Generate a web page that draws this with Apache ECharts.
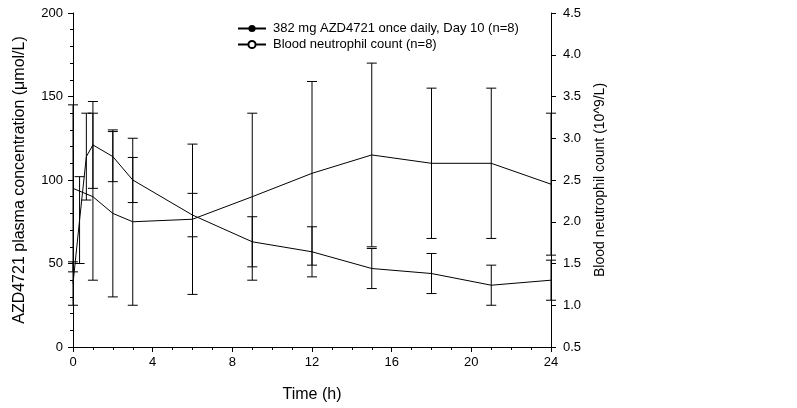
<!DOCTYPE html>
<html>
<head>
<meta charset="utf-8">
<script src="https://cdn.jsdelivr.net/npm/echarts@6/dist/echarts.min.js"></script>
<style>
html,body{margin:0;padding:0;background:#fff;}
#chart{width:797px;height:408px;}
</style>
</head>
<body>
<div id="chart"></div>
<script>
// ---- data ----
var concName = '382 mg AZD4721 once daily, Day 10 (n=8)';
var neutName = 'Blood neutrophil count (n=8)';
var concTimes = [0, 0.33, 0.67, 1, 2, 3, 6, 9, 12, 15, 18, 21, 24];
var concMean  = [38, 76, 114, 121, 114, 100, 79, 63, 57, 47, 44, 37, 40];
var concSD    = [13, 26, 26, 26, 15, 13.5, 13, 15, 15, 12, 12, 12, 12];
var neutTimes = [0, 1, 2, 3, 6, 9, 12, 15, 18, 21, 24];
var neutMean  = [2.4, 2.3, 2.1, 2.0, 2.03, 2.3, 2.58, 2.8, 2.7, 2.7, 2.45];
var neutSD    = [1.0, 1.0, 1.0, 1.0, 0.9, 1.0, 1.1, 1.1, 0.9, 0.9, 0.85];
var xTicks = [0, 4, 8, 12, 16, 20, 24];

var FONT = 'Liberation Sans, Arial, sans-serif';

function pairs(t, v) { return t.map(function (x, i) { return [x, v[i]]; }); }
function errData(t, m, s) { return t.map(function (x, i) { return [x, m[i] - s[i], m[i] + s[i]]; }); }

function errRender(params, api) {
  var x = api.value(0);
  var lo = api.coord([x, api.value(1)]);
  var hi = api.coord([x, api.value(2)]);
  var w = 5;
  var st = { stroke: '#000', lineWidth: 1 };
  return {
    type: 'group',
    children: [
      { type: 'line', shape: { x1: lo[0], y1: lo[1], x2: hi[0], y2: hi[1] }, style: st },
      { type: 'line', shape: { x1: lo[0] - w, y1: lo[1], x2: lo[0] + w, y2: lo[1] }, style: st },
      { type: 'line', shape: { x1: hi[0] - w, y1: hi[1], x2: hi[0] + w, y2: hi[1] }, style: st }
    ]
  };
}

var chart = echarts.init(document.getElementById('chart'), null, { renderer: 'canvas' });
var axisCommon = {
  axisLine: { show: true, lineStyle: { color: '#000', width: 1 } },
  splitLine: { show: false },
  axisLabel: { color: '#000', fontSize: 13, fontFamily: FONT },
  nameTextStyle: { color: '#000', fontSize: 16, fontFamily: FONT }
};
chart.setOption({
  animation: false,
  backgroundColor: '#fff',
  textStyle: { fontFamily: FONT },
  grid: { left: 73, right: 246, top: 13, bottom: 61, containLabel: false },
  legend: {
    orient: 'vertical', left: 237, top: 22, padding: 0,
    itemWidth: 28, itemHeight: 9, itemGap: 3,
    textStyle: { color: '#000', fontSize: 13, fontFamily: FONT, padding: [0, 0, 0, 2] },
    data: [concName, neutName]
  },
  xAxis: Object.assign({}, axisCommon, {
    type: 'value', min: 0, max: 24, interval: 4,
    name: 'Time (h)', nameLocation: 'middle', nameGap: 40,
    axisTick: { show: true, inside: false, length: 5, lineStyle: { color: '#000' } },
    minorTick: { show: true, splitNumber: 4, length: 3, lineStyle: { color: '#000' } },
    axisLabel: Object.assign({}, axisCommon.axisLabel, { margin: 9,
      formatter: function (v) { return xTicks.indexOf(v) >= 0 ? String(v) : ''; } })
  }),
  yAxis: [
    Object.assign({}, axisCommon, {
      type: 'value', position: 'left', min: 0, max: 200, interval: 50,
      name: 'AZD4721 plasma concentration (\u03bcmol/L)', nameLocation: 'middle', nameGap: 45, nameRotate: 90,
      axisTick: { show: true, inside: false, length: 5, lineStyle: { color: '#000' } },
      minorTick: { show: true, splitNumber: 5, length: 3, lineStyle: { color: '#000' } },
      axisLabel: Object.assign({}, axisCommon.axisLabel, { margin: 10 })
    }),
    Object.assign({}, axisCommon, {
      type: 'value', position: 'right', min: 0.5, max: 4.5, interval: 0.5,
      name: 'Blood neutrophil count (10^9/L)', nameLocation: 'middle', nameGap: 42, nameRotate: 90,
      nameTextStyle: { color: '#000', fontSize: 14, fontFamily: FONT },
      axisTick: { show: true, inside: false, length: 5, lineStyle: { color: '#000' } },
      axisLabel: Object.assign({}, axisCommon.axisLabel, { margin: 12,
        formatter: function (v) { return v.toFixed(1); } })
    })
  ],
  series: [
    {
      name: concName, type: 'line', yAxisIndex: 0,
      data: pairs(concTimes, concMean),
      symbol: 'circle', symbolSize: 9, showSymbol: false,
      itemStyle: { color: '#000', borderColor: '#000' },
      lineStyle: { color: '#000', width: 1 }
    },
    {
      name: neutName, type: 'line', yAxisIndex: 1,
      data: pairs(neutTimes, neutMean),
      symbol: 'circle', symbolSize: 9, showSymbol: false,
      itemStyle: { color: '#fff', borderColor: '#000', borderWidth: 1 },
      lineStyle: { color: '#000', width: 1 }
    },
    {
      name: 'concErr', type: 'custom', yAxisIndex: 0,
      data: errData(concTimes, concMean, concSD),
      renderItem: errRender, silent: true
    },
    {
      name: 'neutErr', type: 'custom', yAxisIndex: 1,
      data: errData(neutTimes, neutMean, neutSD),
      renderItem: errRender, silent: true
    }
  ]
});
</script>
</body>
</html>
